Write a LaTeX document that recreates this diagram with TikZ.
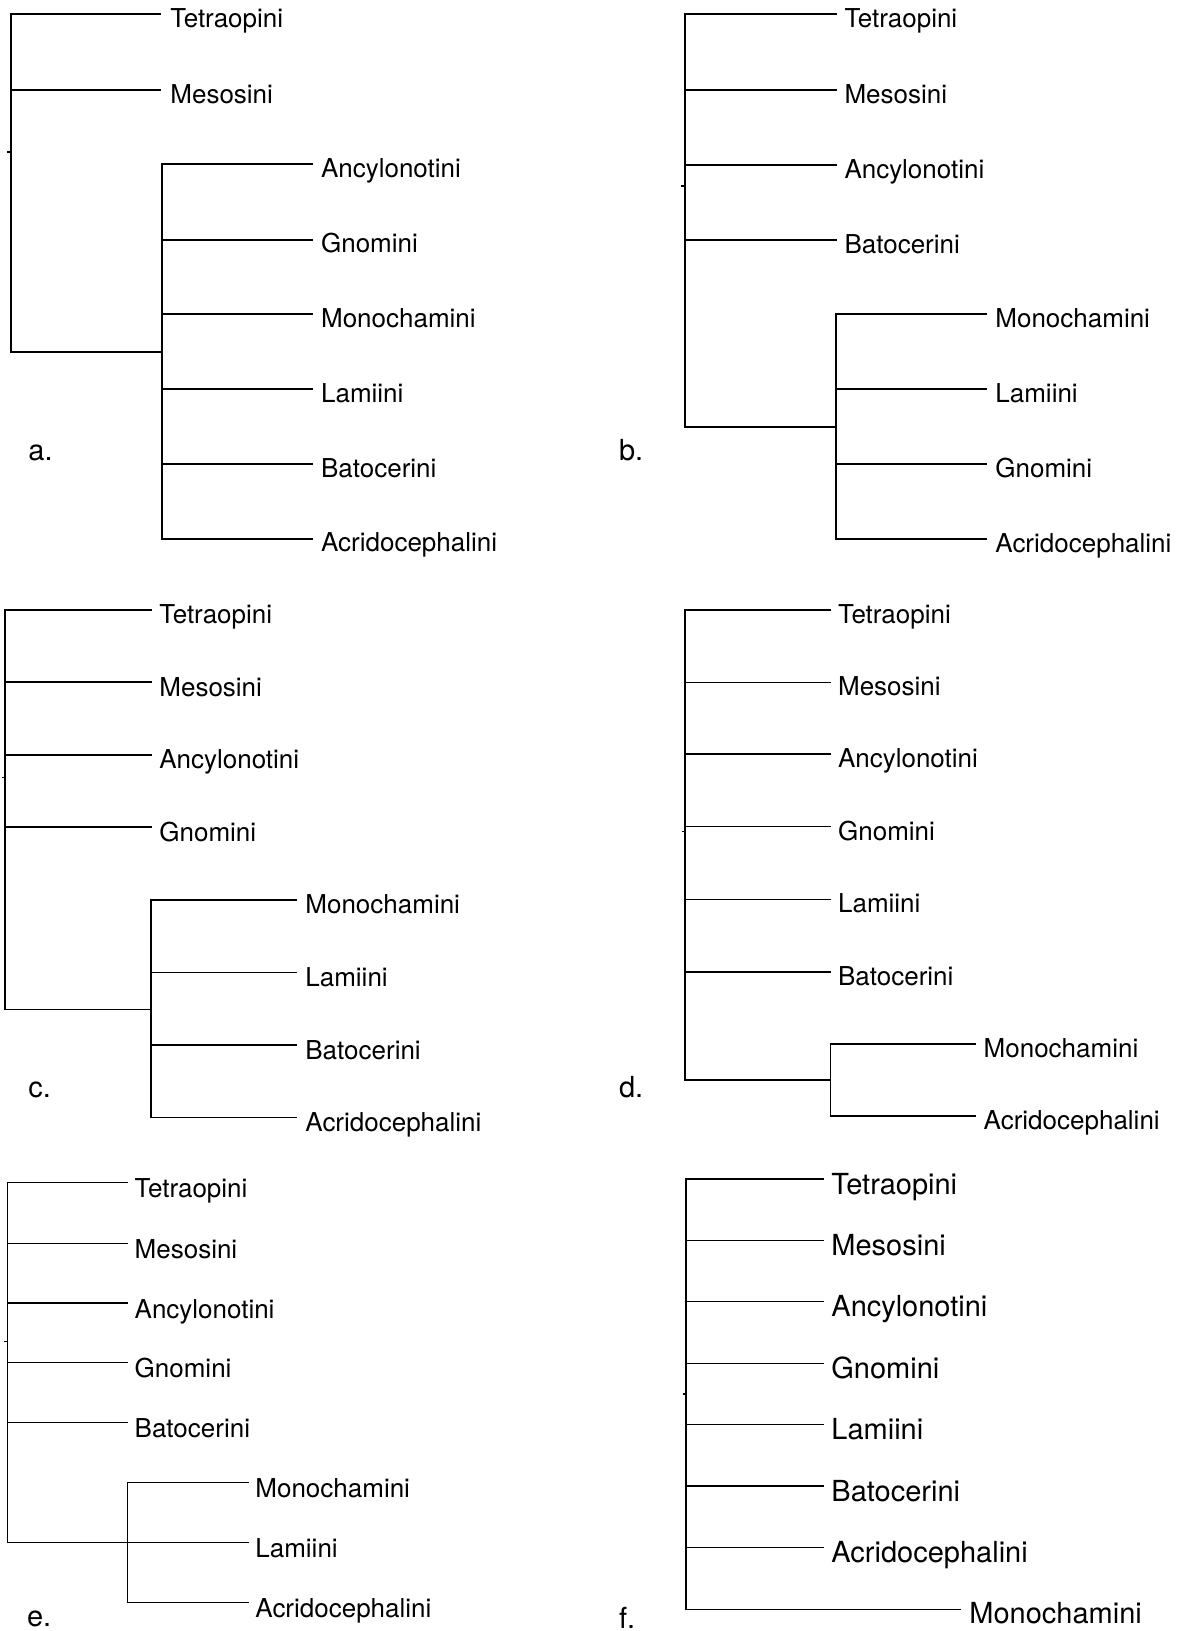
\documentclass[tikz,border=0pt]{standalone}
\usepackage{fontspec}
\setmainfont{TeX Gyre Heros}
\begin{document}
\begin{tikzpicture}[x=0.5pt,y=-0.5pt,
  lab/.style={inner sep=0pt,anchor=base west,font=\fontsize{13}{15}\selectfont},
  labbig/.style={inner sep=0pt,anchor=base west,font=\fontsize{14.5}{17}\selectfont},
  plab/.style={inner sep=0pt,anchor=base west,font=\fontsize{14.5}{17}\selectfont},
  br/.style={line width=1pt,line cap=rect},
  brm/.style={line width=0.9pt,line cap=rect},
  brt/.style={line width=0.75pt,line cap=rect}]
\useasboundingbox (0,0) rectangle (1187,1631);

% ---------------- panel a ----------------
\coordinate (aT) at (11,14.3); \coordinate (aB) at (11,351.8);
\coordinate (aI) at (162,351.8); \coordinate (aIT) at (162,164.3); \coordinate (aIB) at (162,538.6);
\coordinate (aR0) at (8,151.8); \coordinate (aR1) at (11,151.8);
\draw[br] (aT) -- (aB) -- (aI);
\draw[br] (aIT) -- (aIB);
\draw[br] (aR0) -- (aR1);
\foreach \n/\y/\t in {1/14.3/Tetraopini,2/90.4/Mesosini}{
  \coordinate (a\n s) at (11,\y); \coordinate (a\n e) at (160,\y);
  \draw[br] (a\n s) -- (a\n e);
  \node[lab] (a\n) at (170,\y+13) {\t};
}
\foreach \n/\y/\t in {3/164.3/Ancylonotini,4/239.6/Gnomini,5/314.3/Monochamini,6/389.3/Lamiini,7/464.3/Batocerini,8/538.6/Acridocephalini}{
  \coordinate (a\n s) at (162,\y); \coordinate (a\n e) at (311.7,\y);
  \draw[br] (a\n s) -- (a\n e);
  \node[lab] (a\n) at (320.7,\y+13) {\t};
}
\node[plab] (la) at (28,460.7) {a.};

% ---------------- panel b ----------------
\coordinate (bT) at (685.4,14.3); \coordinate (bB) at (685.4,426.8);
\coordinate (bI) at (835.9,426.8); \coordinate (bIT) at (835.9,314.3); \coordinate (bIB) at (835.9,538.6);
\coordinate (bR0) at (682.4,185.7); \coordinate (bR1) at (685.4,185.7);
\draw[br] (bT) -- (bB) -- (bI);
\draw[br] (bIT) -- (bIB);
\draw[br] (bR0) -- (bR1);
\foreach \n/\y/\t in {1/14.3/Tetraopini,2/90/Mesosini,3/164.6/Ancylonotini,4/239.6/Batocerini}{
  \coordinate (b\n s) at (685.4,\y); \coordinate (b\n e) at (835.9,\y);
  \draw[br] (b\n s) -- (b\n e);
  \node[lab] (b\n) at (844.1,\y+13.5) {\t};
}
\foreach \n/\y/\t in {5/314.3/Monochamini,6/389.3/Lamiini,7/464.3/Gnomini,8/538.6/Acridocephalini}{
  \coordinate (b\n s) at (835.9,\y); \coordinate (b\n e) at (985.6,\y);
  \draw[br] (b\n s) -- (b\n e);
  \node[lab] (b\n) at (995,\y+13.5) {\t};
}
\node[plab] (lb) at (618.7,460.7) {b.};

% ---------------- panel c ----------------
\coordinate (cT) at (5,609.9); \coordinate (cB) at (5,1009.4);
\coordinate (cI) at (150.7,1009.4); \coordinate (cIT) at (150.7,899.6); \coordinate (cIB) at (150.7,1117.5);
\coordinate (cR0) at (2.5,777.5); \coordinate (cR1) at (5,777.5);
\draw[brm] (cT) -- (cB) -- (cI);
\draw[brm] (cIT) -- (cIB);
\draw[brm] (cR0) -- (cR1);
\foreach \n/\y/\t in {1/609.9/Tetraopini,2/682.1/Mesosini,3/754.9/Ancylonotini,4/827.1/Gnomini}{
  \coordinate (c\n s) at (5,\y); \coordinate (c\n e) at (150.7,\y);
  \draw[brm] (c\n s) -- (c\n e);
  \node[lab] (c\n) at (159,\y+14) {\t};
}
\foreach \n/\y/\t in {5/899.6/Monochamini,6/972.4/Lamiini,7/1045.3/Batocerini,8/1117.5/Acridocephalini}{
  \coordinate (c\n s) at (150.7,\y); \coordinate (c\n e) at (296,\y);
  \draw[brm] (c\n s) -- (c\n e);
  \node[lab] (c\n) at (305,\y+14) {\t};
}
\node[plab] (lc) at (28,1097.1) {c.};

% ---------------- panel d ----------------
\coordinate (dT) at (685,610); \coordinate (dB) at (685,1080);
\coordinate (dI) at (830.3,1080); \coordinate (dIT) at (830.3,1044); \coordinate (dIB) at (830.3,1116);
\coordinate (dR0) at (682.3,831.7); \coordinate (dR1) at (685,831.7);
\draw[brt] (dT) -- (dB) -- (dI);
\draw[brt] (dIT) -- (dIB);
\draw[brt] (dR0) -- (dR1);
\foreach \n/\y/\t in {1/610/Tetraopini,2/682.3/Mesosini,3/754/Ancylonotini,4/826.7/Gnomini,5/899.3/Lamiini,6/972/Batocerini}{
  \coordinate (d\n s) at (685,\y); \coordinate (d\n e) at (830,\y);
  \draw[brt] (d\n s) -- (d\n e);
  \node[lab] (d\n) at (837.7,\y+13.3) {\t};
}
\foreach \n/\y/\t in {7/1044/Monochamini,8/1116/Acridocephalini}{
  \coordinate (d\n s) at (830.3,\y); \coordinate (d\n e) at (975,\y);
  \draw[brt] (d\n s) -- (d\n e);
  \node[lab] (d\n) at (983.3,\y+13.3) {\t};
}
\node[plab] (ld) at (618.7,1097.1) {d.};

% ---------------- panel e ----------------
\coordinate (eT) at (7.3,1182.7); \coordinate (eB) at (7.3,1542.7);
\coordinate (eI) at (127.7,1542.7); \coordinate (eIT) at (127.7,1482.3); \coordinate (eIB) at (127.7,1602.3);
\coordinate (eR0) at (5,1341.7); \coordinate (eR1) at (7.3,1341.7);
\draw[brt] (eT) -- (eB) -- (eI);
\draw[brt] (eIT) -- (eIB);
\draw[brt] (eR0) -- (eR1);
\foreach \n/\y/\t in {1/1182.7/Tetraopini,2/1243.3/Mesosini,3/1303/Ancylonotini,4/1362.7/Gnomini,5/1422.7/Batocerini}{
  \coordinate (e\n s) at (7.3,\y); \coordinate (e\n e) at (127.7,\y);
  \draw[brt] (e\n s) -- (e\n e);
  \node[lab] (e\n) at (134.3,\y+15) {\t};
}
\foreach \n/\y/\t in {6/1482.3/Monochamini,7/1542.7/Lamiini,8/1602.3/Acridocephalini}{
  \coordinate (e\n s) at (127.7,\y); \coordinate (e\n e) at (248.3,\y);
  \draw[brt] (e\n s) -- (e\n e);
  \node[lab] (e\n) at (255,\y+15) {\t};
}
\node[plab] (le) at (26.7,1626) {e.};

% ---------------- panel f ----------------
\coordinate (fT) at (686,1179); \coordinate (fB) at (686,1609.3);
\coordinate (fR0) at (684,1394); \coordinate (fR1) at (686,1394);
\draw[brt] (fT) -- (fB);
\draw[brt] (fR0) -- (fR1);
\foreach \n/\y/\t in {1/1179/Tetraopini,2/1240.7/Mesosini,3/1301.7/Ancylonotini,4/1363.3/Gnomini,5/1424.3/Lamiini,6/1486/Batocerini,7/1547.7/Acridocephalini}{
  \coordinate (f\n s) at (686,\y); \coordinate (f\n e) at (823.3,\y);
  \draw[brt] (f\n s) -- (f\n e);
  \node[labbig] (f\n) at (831,\y+15) {\t};
}
\coordinate (f8s) at (686,1609.3); \coordinate (f8e) at (960.7,1609.3);
\draw[brt] (f8s) -- (f8e);
\node[labbig] (f8) at (969,1623.8) {Monochamini};
\node[plab] (lf) at (618.7,1628) {f.};
\end{tikzpicture}
\end{document}
